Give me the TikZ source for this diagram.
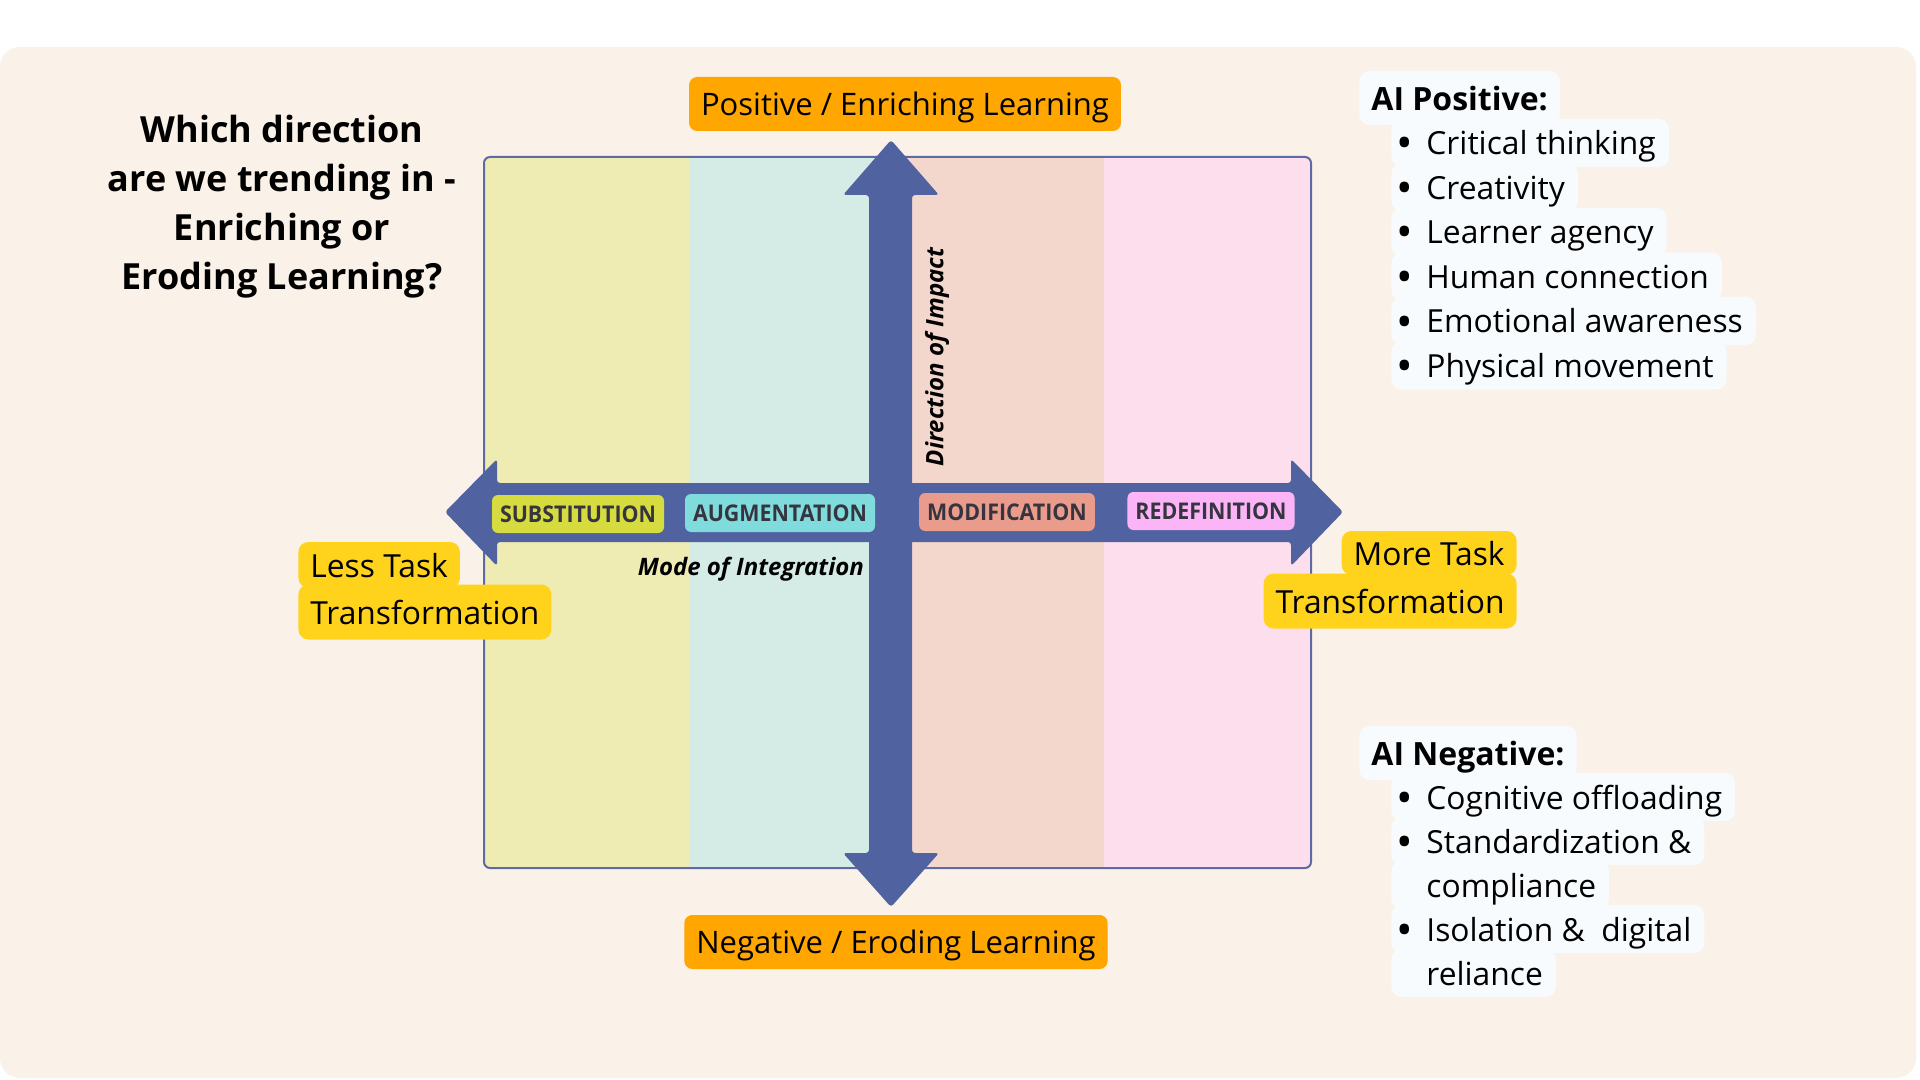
\documentclass[tikz,border=0pt]{standalone}
\usepackage{fontspec}
\setmainfont{Open Sans}
\newfontfamily\samrfont{Open Sans}[FakeStretch=0.93]
\usetikzlibrary{positioning}

\definecolor{panelBg}{HTML}{FAF1E8}
\definecolor{colSubst}{HTML}{EEEBB3}
\definecolor{colAugm}{HTML}{D4ECE5}
\definecolor{colModif}{HTML}{F4D7CC}
\definecolor{colRedef}{HTML}{FCDEEC}
\definecolor{arrowBlue}{HTML}{5062A0}
\definecolor{frameBlue}{HTML}{5D6AA6}
\definecolor{orangeLbl}{HTML}{FFA600}
\definecolor{yellowLbl}{HTML}{FFD31C}
\definecolor{listBg}{HTML}{F7FBFD}
\definecolor{substFill}{HTML}{D6DC3F}
\definecolor{augmFill}{HTML}{80DCDC}
\definecolor{modifFill}{HTML}{EA9C8C}
\definecolor{redefFill}{HTML}{FBB5F7}
\definecolor{samrText}{HTML}{35343F}

\newcommand{\lstbullet}{\makebox[11pt][l]{\hspace*{-4pt}\raisebox{-2pt}{\fontsize{22}{22}\selectfont\textbullet}}}
\newcommand{\lstindent}{\hspace*{11pt}}

\begin{document}
\begin{tikzpicture}[x=0.5pt,y=-0.5pt,
  label text/.style={font=\fontsize{15.9}{18}\selectfont,text height=12pt,text depth=0pt},
  orange label/.style={font=\fontsize{15.5}{18}\selectfont,text height=11.8pt,text depth=0pt,fill=orangeLbl,rounded corners=4pt,inner xsep=6pt,minimum height=27pt},
  yellow label/.style={label text,fill=yellowLbl,rounded corners=5pt,inner xsep=6pt,inner ysep=0pt},
  samr box/.style={font=\fontsize{11.5}{13}\samrfont\bfseries,text=samrText,rounded corners=3pt,inner xsep=4pt,minimum height=19pt},
  list line/.style={label text,fill=listBg,rounded corners=5pt,inner xsep=6.5pt,inner ysep=0pt,minimum height=24pt,anchor=west},
  list head/.style={list line,font=\fontsize{16}{18}\selectfont\bfseries,text height=12.2pt,inner xsep=6pt,minimum height=27pt},
  axis text/.style={font=\fontsize{12}{14}\selectfont\bfseries\itshape}]

  % page and panel
  \fill[white] (0,0) rectangle (1920,1080);
  \fill[panelBg,rounded corners=10pt] (0,47) rectangle (1916,1078);

  % SAMR columns
  \begin{scope}
    \clip[rounded corners=3pt] (484,157) rectangle (1311,868);
    \fill[colSubst] (484,157) rectangle (689,868);
    \fill[colAugm]  (689,157) rectangle (891,868);
    \fill[colModif] (891,157) rectangle (1104,868);
    \fill[colRedef] (1104,157) rectangle (1311,868);
  \end{scope}
  \draw[frameBlue,line width=1pt,rounded corners=3pt] (484,157) rectangle (1311,868);

  % the two axes
  \fill[arrowBlue,rounded corners=1.5pt] (445,512) -- (497,459) -- (497,483) -- (1291,483) -- (1291,459)
    -- (1343,512) -- (1291,566) -- (1291,542) -- (497,542) -- (497,566) -- cycle;
  \fill[arrowBlue,rounded corners=1.5pt] (891,140) -- (939,195) -- (912,195) -- (912,853) -- (939,853)
    -- (891,907) -- (843,853) -- (869,853) -- (869,195) -- (843,195) -- cycle;

  \node[samr box,fill=substFill] (subst) at (578,514) {SUBSTITUTION};
  \node[samr box,fill=augmFill]  (augm)  at (780,513) {AUGMENTATION};
  \node[samr box,fill=modifFill] (modif) at (1007,512) {MODIFICATION};
  \node[samr box,fill=redefFill] (redef) at (1211,511) {REDEFINITION};

  \node[axis text,rotate=90] (dir) at (937,357) {Direction of Impact};
  \node[axis text,anchor=east,text height=9.1pt,text depth=0pt] (mode) at (871,566) {Mode of Integration};

  % ends of the axes
  \node[orange label] (pos) at (905,104) {Positive / Enriching Learning};
  \node[orange label] (neg) at (896,942) {Negative / Eroding Learning};

  \node[yellow label,anchor=west,minimum height=23pt] (less1) at (298,565) {Less Task};
  \node[yellow label,anchor=west,minimum height=27.5pt] (less2) at (298,612) {Transformation};
  \node[yellow label,anchor=east,minimum height=22pt] (more1) at (1517,553) {More Task};
  \node[yellow label,anchor=east,minimum height=27.5pt] (more2) at (1517,601) {Transformation};

  % question
  \node[font=\fontsize{18}{24.5}\selectfont\bfseries,align=center] (title) at (282,207)
    {Which direction\\are we trending in -\\Enriching or\\Eroding Learning?};

  % AI positive list
  \node[list head] (posHead) at (1359,98) {AI Positive:};
  \node[list line] (p1) at (1391,143) {\lstbullet Critical thinking};
  \node[list line] (p2) at (1391,187.5) {\lstbullet Creativity};
  \node[list line] (p3) at (1391,232) {\lstbullet Learner agency};
  \node[list line] (p4) at (1391,276.5) {\lstbullet Human connection};
  \node[list line] (p5) at (1391,321) {\lstbullet Emotional awareness};
  \node[list line] (p6) at (1391,365.5) {\lstbullet Physical movement};

  % AI negative list
  \node[list head] (negHead) at (1359,753) {AI Negative:};
  \node[list line] (n1) at (1391,797) {\lstbullet Cognitive offloading};
  \node[list line] (n2) at (1391,841) {\lstbullet Standardization \&};
  \node[list line] (n3) at (1391,885) {\lstindent compliance};
  \node[list line] (n4) at (1391,929) {\lstbullet Isolation \&~ digital};
  \node[list line] (n5) at (1391,973) {\lstindent reliance};
\end{tikzpicture}
\end{document}
